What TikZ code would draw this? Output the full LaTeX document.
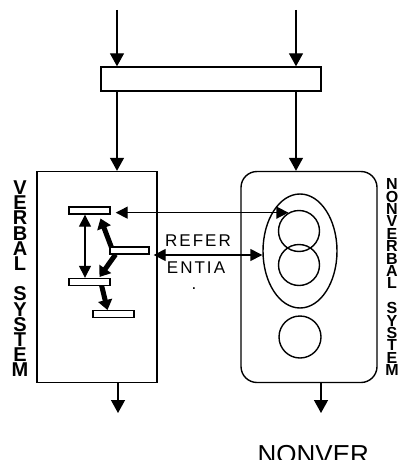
\documentclass[tikz,border=0pt]{standalone}
\usepackage{fontspec}
\setmainfont{Liberation Sans}
\usetikzlibrary{arrows.meta,calc,shapes.geometric}
\begin{document}
\begin{tikzpicture}[x=1pt,y=-1pt,line width=1.4pt,
  arr/.style={-{Triangle[length=13pt,width=14pt]}},
  dbl/.style={{Triangle[length=12pt,width=12pt]}-{Triangle[length=12pt,width=12pt]}},
  fat/.style={line width=5pt,-{Triangle[length=10pt,width=14pt]}},
  smallbar/.style={draw,fill=white,minimum width=41pt,minimum height=7pt,inner sep=0pt},
  sidelab/.style={align=center,inner sep=0pt,anchor=north},
  midtext/.style={font=\fontsize{17}{17}\selectfont\addfontfeature{LetterSpace=12},inner sep=0pt},
  ring/.style={draw,circle,inner sep=0pt}]
\useasboundingbox (0,0) rectangle (403,460);
\clip (0,0) rectangle (403,460);
% main boxes
\node[draw,minimum width=220pt,minimum height=24pt,inner sep=0pt] (bar) at (211,79) {};
\node[draw,minimum width=120pt,minimum height=211pt,inner sep=0pt] (vbox) at (97,277) {};
\node[draw,rounded corners=16pt,minimum width=136pt,minimum height=211pt,inner sep=0pt] (nbox) at (309,277) {};
% inputs and outputs
\coordinate (in1) at (117,10);
\coordinate (in2) at (296,10);
\coordinate (out1) at (118,413);
\coordinate (out2) at (321,413);
\draw[arr] (in1) -- (in1 |- bar.north);
\draw[arr] (in2) -- (in2 |- bar.north);
\draw[arr] (bar.south -| in1) -- (vbox.north -| in1);
\draw[arr] (bar.south -| in2) -- (nbox.north -| in2);
\draw[arr] (vbox.south -| out1) -- (out1);
\draw[arr] (nbox.south -| out2) -- (out2);
% verbal units
\coordinate (vx) at (85,0);
\coordinate (b1p) at (89.5,210.5);
\coordinate (b2p) at (129.5,250.5);
\coordinate (b3p) at (89.5,282);
\coordinate (b4p) at (113.5,314);
\draw[fat] ($(b2p)+(-18,-3)$) -- ($(b1p)+(11,8)$);
\draw[fat] ($(b2p)+(-14,4)$) -- ($(b3p)+(10,-5)$);
\draw[fat] ($(b3p)+(12,3)$) -- ($(b4p)+(-6,-4)$);
\node[smallbar] (b1) at (b1p) {};
\node[smallbar,minimum width=39pt] (b2) at (b2p) {};
\node[smallbar] (b3) at (b3p) {};
\node[smallbar] (b4) at (b4p) {};
\draw[dbl] (b1.south -| vx) -- (b3.north -| vx);
% nonverbal units
\node[draw,ellipse,minimum width=74pt,minimum height=114pt,inner sep=0pt] (E) at (300,251) {};
\node[ring,minimum size=41pt] (c1) at (299,231) {};
\node[ring,minimum size=41pt] (c2) at (299,265) {};
\node[ring,minimum size=42pt] (c3) at (300,337) {};
% referential connections
\coordinate (h1) at ($(c1.120 -| b1.east)+(5,0)$);
\draw[dbl] (h1) -- (c1.120);
\coordinate (h2) at ($(b2.east)+(4,4.5)$);
\draw[dbl] (h2) -- (h2 -| E.west);
\node[midtext] (t1) at (198,241) {REFER};
\node[midtext] (t2) at (196,268) {ENTIA};
\node[midtext] (t3) at (194,289) {.};
% side labels
\node[sidelab,font=\fontsize{20}{15.2}\selectfont\bfseries] (vl) at (20,180)
  {V\\E\\R\\B\\A\\L\\[15.2pt]S\\Y\\S\\T\\E\\M};
\node[sidelab,font=\fontsize{16}{12.4}\selectfont\bfseries] (nl) at (392,178)
  {N\\O\\N\\V\\E\\R\\B\\A\\L\\[12.4pt]S\\Y\\S\\T\\E\\M};
\node[anchor=base west,inner sep=0pt,font=\fontsize{26}{26}\selectfont] (nv) at (257,463.6) {NONVER};
\end{tikzpicture}
\end{document}
